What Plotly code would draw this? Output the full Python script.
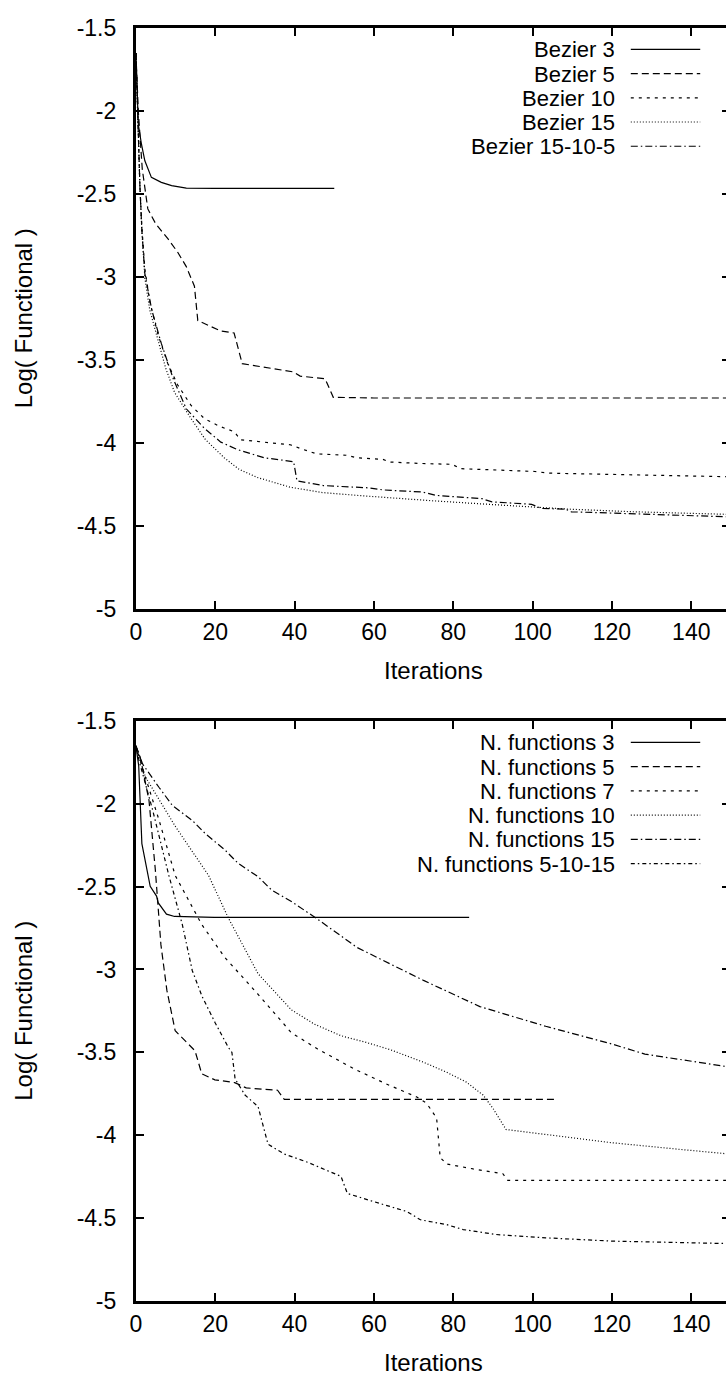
import plotly.graph_objects as go

W, H = 726, 1391

# ---------------- data ----------------
bez3_x = [0, 0.6, 1.4, 2.25, 3.9, 6.4, 9, 12.7, 20, 30, 40, 50]
bez3_y = [-1.65, -2.08, -2.2, -2.30, -2.40, -2.43, -2.45, -2.465, -2.466, -2.466, -2.466, -2.466]

bez5_x = [0, 0.6, 1.6, 3.0, 5, 8.1, 10.5, 12.7, 14.75, 15.6, 21.4, 24.75, 26.8, 39.75, 41.4, 47.7, 49.75, 60, 80, 100, 120, 150]
bez5_y = [-1.65, -2.0, -2.35, -2.59, -2.68, -2.771, -2.85, -2.938, -3.056, -3.263, -3.326, -3.338, -3.523, -3.573, -3.598, -3.614, -3.726, -3.73, -3.73, -3.73, -3.73, -3.73]

bez10_x = [0, 0.5, 1, 1.5, 2.25, 3.5, 5.6, 8, 10.5, 13.9, 17.25, 21, 24.75, 26.4, 32, 38.9, 42.25, 45.6, 53, 55.6, 62.25, 63.9, 72.25, 79.75, 81.8, 100.6, 103.9, 125.6, 150]
bez10_y = [-1.65, -2.1, -2.45, -2.7, -2.95, -3.15, -3.35, -3.52, -3.65, -3.775, -3.854, -3.90, -3.933, -3.982, -3.995, -4.012, -4.041, -4.067, -4.075, -4.09, -4.10, -4.116, -4.125, -4.13, -4.156, -4.173, -4.183, -4.193, -4.205]

bez15_x = [0, 0.5, 1, 1.5, 2.25, 3.5, 5.6, 7.5, 9.75, 13.9, 17.5, 22.25, 26, 30.6, 38.9, 47, 55.6, 65, 75.6, 92.25, 109, 125.6, 150]
bez15_y = [-1.65, -2.1, -2.45, -2.72, -3.007, -3.2, -3.381, -3.55, -3.697, -3.854, -3.98, -4.09, -4.16, -4.209, -4.268, -4.30, -4.317, -4.335, -4.351, -4.376, -4.40, -4.416, -4.432]

bez15105_x = [0, 0.5, 1, 1.5, 2.25, 4, 6.4, 9.5, 12.7, 17.25, 21.4, 25.6, 32.25, 39.75, 40.6, 47.25, 50.6, 58.9, 62.25, 72.25, 75.6, 87.25, 89.75, 99.75, 102.25, 108.3, 109.75, 125.6, 150]
bez15105_y = [-1.65, -2.1, -2.45, -2.72, -2.98, -3.2, -3.401, -3.62, -3.795, -3.913, -3.996, -4.041, -4.09, -4.114, -4.229, -4.258, -4.262, -4.272, -4.284, -4.297, -4.317, -4.337, -4.356, -4.371, -4.396, -4.40, -4.416, -4.43, -4.447]

nf3_x = [0, 0.7, 1.5, 3.6, 5.2, 5.6, 7.7, 9.75, 19.75, 40, 60, 84]
nf3_y = [-1.65, -1.77, -2.24, -2.498, -2.557, -2.597, -2.666, -2.68, -2.686, -2.686, -2.686, -2.686]

nf5_x = [0, 1.1, 3.3, 4.9, 6.3, 7.8, 9.9, 14.9, 16.6, 19.9, 24.9, 27.8, 35.7, 37.4, 60, 80, 106]
nf5_y = [-1.65, -1.72, -1.98, -2.40, -2.85, -3.125, -3.37, -3.491, -3.63, -3.666, -3.683, -3.715, -3.729, -3.784, -3.784, -3.784, -3.784]

nf7_x = [0, 1.6, 5.8, 9.9, 16.6, 22.4, 30.8, 39.2, 45.8, 55, 63, 70.8, 73.3, 75.8, 76.7, 78.3, 85, 92.5, 93.75, 110, 130, 150]
nf7_y = [-1.65, -1.78, -2.096, -2.432, -2.729, -2.927, -3.15, -3.382, -3.48, -3.60, -3.69, -3.77, -3.808, -3.897, -4.135, -4.174, -4.204, -4.233, -4.273, -4.273, -4.273, -4.273]

nf10_x = [0, 2.4, 9.9, 18.3, 23.3, 30.8, 39.2, 45, 51.7, 58, 64.2, 72.5, 78.3, 83.3, 87.5, 90, 93.3, 103.3, 120, 136.7, 150]
nf10_y = [-1.65, -1.838, -2.135, -2.432, -2.689, -3.026, -3.244, -3.33, -3.40, -3.44, -3.485, -3.56, -3.62, -3.68, -3.758, -3.838, -3.966, -3.996, -4.046, -4.085, -4.115]

nf15_x = [0, 1.7, 5.8, 9.2, 14.2, 17.5, 22.5, 25.8, 30.8, 34.2, 39.2, 45, 55.8, 64.2, 72.5, 86.7, 103.3, 120, 128.3, 150]
nf15_y = [-1.65, -1.76, -1.90, -2.01, -2.10, -2.18, -2.28, -2.36, -2.44, -2.52, -2.59, -2.683, -2.868, -2.967, -3.066, -3.224, -3.343, -3.45, -3.511, -3.59]

nf51015_x = [0, 0.8, 4.2, 8.3, 11.7, 14.2, 16.7, 20, 23.3, 24.2, 25, 27.5, 30.8, 33.3, 37.5, 43.3, 51.7, 53.3, 60, 68.3, 71.7, 78.3, 82.5, 90.8, 103.3, 120, 150]
nf51015_y = [-1.65, -1.74, -2.036, -2.432, -2.729, -3.006, -3.164, -3.323, -3.47, -3.501, -3.66, -3.758, -3.828, -4.055, -4.115, -4.164, -4.249, -4.352, -4.402, -4.461, -4.511, -4.54, -4.57, -4.60, -4.62, -4.64, -4.655]

top_labels = ["Bezier 3", "Bezier 5", "Bezier 10", "Bezier 15", "Bezier 15-10-5"]
bottom_labels = ["N. functions 3", "N. functions 5", "N. functions 7",
                 "N. functions 10", "N. functions 15", "N. functions 5-10-15"]

x_tickvals = [0, 20, 40, 60, 80, 100, 120, 140]
x_ticktext = ["0", "20", "40", "60", "80", "100", "120", "140"]
y_tickvals = [-5, -4.5, -4, -3.5, -3, -2.5, -2, -1.5]
y_ticktext = ["-5", "-4.5", "-4", "-3.5", "-3", "-2.5", "-2", "-1.5"]

x_title = "Iterations"
y_title = "Log( Functional )"

# ---------------- styling ----------------
FONT = "Liberation Sans, Arial, sans-serif"
FS_TICK = 23
FS = 24
FS_LEG = 22
LW = 1.2
top_dashes = ["solid", "7px,4px", "3px,5px", "1px,2px", "7px,3px,1.5px,3px"]
bot_dashes = ["solid", "7px,4px", "3px,5px", "1px,2px", "7px,3px,1.5px,3px", "4px,3px,1.5px,3px"]

LEFT = 131
XMAX = (W - LEFT) / 4.0  # 4 px per iteration, plot frame runs past the window edge

def py(p):
    return 1 - p / H

top_dom = [py(607), py(15.4)]
bot_dom = [py(1312.3), py(721.5)]

fig = go.Figure()

top_series = [(bez3_x, bez3_y), (bez5_x, bez5_y), (bez10_x, bez10_y),
              (bez15_x, bez15_y), (bez15105_x, bez15105_y)]
bot_series = [(nf3_x, nf3_y), (nf5_x, nf5_y), (nf7_x, nf7_y),
              (nf10_x, nf10_y), (nf15_x, nf15_y), (nf51015_x, nf51015_y)]

for (xs, ys), name, d in zip(top_series, top_labels, top_dashes):
    fig.add_trace(go.Scatter(x=xs, y=ys, mode="lines", name=name,
                             line=dict(color="black", width=LW, dash=d),
                             xaxis="x", yaxis="y", showlegend=False))
for (xs, ys), name, d in zip(bot_series, bottom_labels, bot_dashes):
    fig.add_trace(go.Scatter(x=xs, y=ys, mode="lines", name=name,
                             line=dict(color="black", width=LW, dash=d),
                             xaxis="x2", yaxis="y2", showlegend=False))
# empty traces so the right-hand tick axes exist
fig.add_trace(go.Scatter(x=[None], y=[None], xaxis="x", yaxis="y3", showlegend=False))
fig.add_trace(go.Scatter(x=[None], y=[None], xaxis="x2", yaxis="y4", showlegend=False))

common = dict(showline=True, linewidth=3, linecolor="black", ticks="inside",
              ticklen=8, tickwidth=2, tickcolor="black", showgrid=False,
              zeroline=False, tickfont=dict(family=FONT, size=FS_TICK, color="black"))

xcommon = dict(common, domain=[LEFT / W, 1], range=[0, XMAX], tickvals=x_tickvals,
               ticktext=x_ticktext, mirror="ticks", ticklabelstandoff=1)
ycommon = dict(common, range=[-5, -1.5], tickvals=y_tickvals, ticktext=y_ticktext,
               mirror=False, ticklabelstandoff=12)
rcommon = dict(range=[-5, -1.5], tickvals=y_tickvals, ticks="inside", ticklen=4,
               tickwidth=2, tickcolor="black", showticklabels=False, showline=False,
               showgrid=False, zeroline=False, side="right")

fig.update_layout(
    width=W, height=H,
    margin=dict(l=0, r=0, t=0, b=0),
    paper_bgcolor="white", plot_bgcolor="white",
    font=dict(family=FONT, size=FS, color="black"),
    xaxis=dict(xcommon, anchor="y"),
    yaxis=dict(ycommon, domain=top_dom, anchor="x"),
    xaxis2=dict(xcommon, anchor="y2"),
    yaxis2=dict(ycommon, domain=bot_dom, anchor="x2"),
    yaxis3=dict(rcommon, overlaying="y", anchor="x"),
    yaxis4=dict(rcommon, overlaying="y2", anchor="x2"),
    showlegend=False,
)

annotations = []
shapes = []

# axis titles
for ax_bottom in [607, 1312.3]:
    annotations.append(dict(text=x_title, xref="paper", x=(LEFT + 600 / 2) / W,
                            yref="paper", y=py(ax_bottom + 63), xanchor="center",
                            yanchor="middle", showarrow=False,
                            font=dict(family=FONT, size=FS, color="black")))
for yc in [(15.4 + 607) / 2, (721.5 + 1312.3) / 2]:
    annotations.append(dict(text=y_title, xref="paper", x=18 / W, yref="paper",
                            y=py(yc), xanchor="center", yanchor="middle",
                            textangle=-90, showarrow=False,
                            font=dict(family=FONT, size=FS, color="black")))

# legends (text on the left, sample line on the right)
def add_legend(labels, dashes, y0, step):
    for i, (lab, d) in enumerate(zip(labels, dashes)):
        yc = y0 + i * step
        annotations.append(dict(text=lab, xref="paper", x=615 / W, yref="paper",
                                y=py(yc), xanchor="right", yanchor="middle",
                                height=24, borderpad=0, valign="middle",
                                showarrow=False,
                                font=dict(family=FONT, size=FS_LEG, color="black")))
        shapes.append(dict(type="line", xref="paper", yref="paper",
                           x0=630 / W, x1=700 / W, y0=py(yc), y1=py(yc),
                           line=dict(color="black", width=LW, dash=d)))

add_legend(top_labels, top_dashes, 37, 24.7)
add_legend(bottom_labels, bot_dashes, 743.3, 24.7)

fig.update_layout(annotations=annotations, shapes=shapes)

fig.write_html("out.html")
